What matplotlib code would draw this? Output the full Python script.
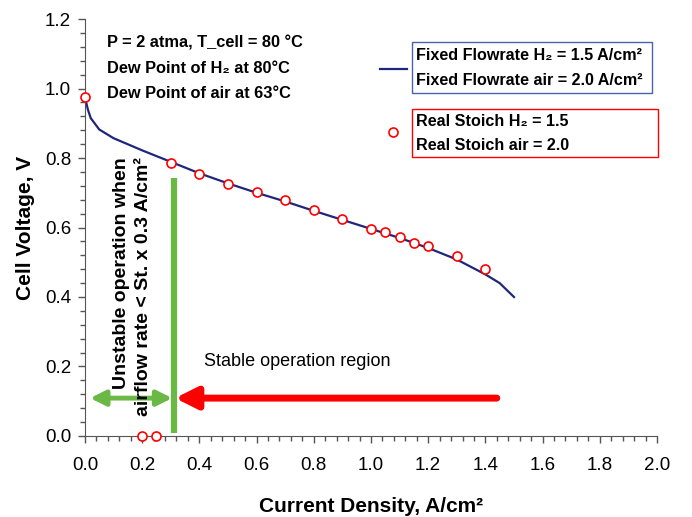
import numpy as np
import matplotlib.pyplot as plt
from matplotlib.ticker import MultipleLocator
from matplotlib.patches import Rectangle

plt.rcParams['font.family'] = ['Liberation Sans', 'DejaVu Sans']

# fixed flowrate polarization curve
line_x = [0, 0.01, 0.02, 0.05, 0.1, 0.2, 0.3, 0.4, 0.5, 0.6, 0.7, 0.8, 0.9,
          1.0, 1.1, 1.2, 1.3, 1.4, 1.45, 1.5]
line_v = [0.975, 0.94, 0.915, 0.882, 0.857, 0.822, 0.789, 0.756, 0.727, 0.700,
          0.675, 0.648, 0.622, 0.596, 0.570, 0.541, 0.508, 0.465, 0.44, 0.40]

# real stoich measurements
pt_x = [0.0, 0.2, 0.25, 0.3, 0.4, 0.5, 0.6, 0.7, 0.8, 0.9, 1.0, 1.05, 1.1,
        1.15, 1.2, 1.3, 1.4]
pt_v = [0.975, 0.0, 0.0, 0.786, 0.755, 0.726, 0.702, 0.679, 0.651, 0.624,
        0.596, 0.588, 0.573, 0.556, 0.547, 0.517, 0.482]

limit_x = 0.31
arrow_v = 0.109

navy = '#1f2778'
green = '#6ab845'

fig = plt.figure(figsize=(6.92, 5.17), dpi=100)
ax = fig.add_axes([0.1228, 0.1567, 0.8266, 0.8065])

ax.plot(line_x, line_v, color=navy, lw=1.6, zorder=2)
ax.plot(pt_x, pt_v, 'o', ms=6.5, mfc='white', mec='red', mew=1.2,
        clip_on=False, zorder=4)

ax.plot([limit_x, limit_x], [0.008, 0.742], color=green, lw=4.5,
        solid_capstyle='butt', zorder=3)
ax.annotate('', xy=(0.018, arrow_v), xytext=(limit_x - 0.005, arrow_v),
            arrowprops=dict(arrowstyle='<|-|>,head_length=0.9,head_width=0.45',
                            color=green, lw=3.5, shrinkA=0, shrinkB=0))
ax.annotate('', xy=(limit_x + 0.005, arrow_v), xytext=(1.44, arrow_v),
            arrowprops=dict(arrowstyle='-|>,head_length=1.3,head_width=0.65',
                            color='red', lw=5, shrinkA=0, shrinkB=0))

ax.set_xlim(0, 2.0)
ax.set_ylim(0, 1.2)
ax.xaxis.set_major_locator(MultipleLocator(0.2))
ax.xaxis.set_minor_locator(MultipleLocator(0.04))
ax.yaxis.set_major_locator(MultipleLocator(0.2))
ax.yaxis.set_minor_locator(MultipleLocator(0.04))
ax.xaxis.set_major_formatter(lambda v, p: f'{v:.1f}')
ax.yaxis.set_major_formatter(lambda v, p: f'{v:.1f}')
ax.tick_params(which='major', length=5, width=1, labelsize=13.5, direction='out')
ax.tick_params(which='minor', length=3.5, width=1, direction='out')
ax.tick_params(axis='x', which='major', pad=10)
ax.tick_params(axis='y', which='major', pad=5)
ax.spines['top'].set_visible(False)
ax.spines['right'].set_visible(False)
for s in ('left', 'bottom'):
    ax.spines[s].set_color('#555555')
ax.tick_params(colors='#555555', labelcolor='black', which='both')

ax.set_xlabel('Current Density, A/cm²', fontsize=15, fontweight='bold',
              labelpad=17)
ax.set_ylabel('Cell Voltage, V', fontsize=15, fontweight='bold')
ax.yaxis.set_label_coords(-0.088, 0.5)

notes = ['P = 2 atma, T_cell = 80 °C', 'Dew Point of H₂ at 80°C',
         'Dew Point of air at 63°C']
for i, s in enumerate(notes):
    ax.text(0.077, 1.131 - i * 0.072, s, fontsize=11.8, fontweight='bold',
            va='center', ha='left')

ax.text(0.165, 0.803, 'Unstable operation when\nairflow rate < St. x 0.3 A/cm²',
        rotation=90, fontsize=14, fontweight='bold', ha='center', va='top',
        multialignment='right', linespacing=1.4)

ax.text(0.416, 0.213, 'Stable operation region', fontsize=13, va='center')

# legend
ax.plot([1.031, 1.126], [1.056, 1.056], color=navy, lw=1.6, clip_on=False)
ax.plot([1.077], [0.875], 'o', ms=6.5, mfc='white', mec='red', mew=1.2,
        clip_on=False)
ax.add_patch(Rectangle((1.143, 0.987), 0.84, 0.147, fill=False, ec='#4a62b0',
                       lw=1, clip_on=False))
ax.add_patch(Rectangle((1.143, 0.803), 0.86, 0.138, fill=False, ec='red',
                       lw=1, clip_on=False))
legend_rows = [('Fixed Flowrate H₂ = 1.5 A/cm²', 1.096),
               ('Fixed Flowrate air = 2.0 A/cm²', 1.022),
               ('Real Stoich H₂ = 1.5', 0.906),
               ('Real Stoich air = 2.0', 0.837)]
for s, v in legend_rows:
    ax.text(1.157, v, s, fontsize=11.6, fontweight='bold', va='center',
            ha='left')

fig.savefig('out.png', dpi=100)
